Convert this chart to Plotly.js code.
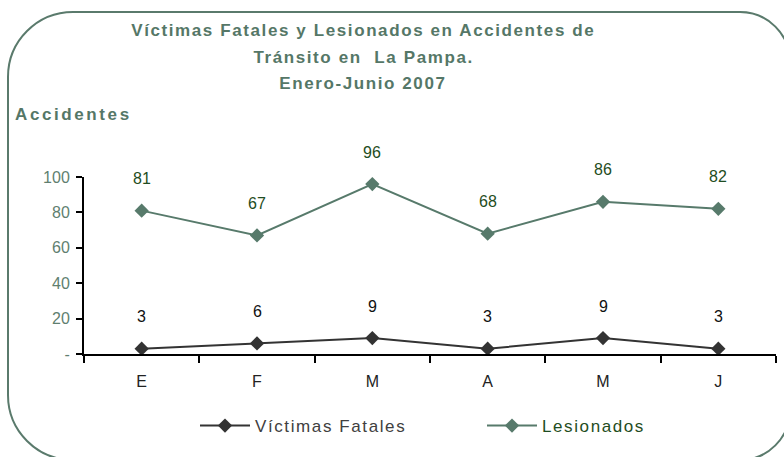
<!DOCTYPE html>
<html>
<head>
<meta charset="utf-8">
<script src="https://cdn.plot.ly/plotly-3.0.1.min.js"></script>
<style>
html,body{margin:0;padding:0;background:#fff;}
.annotation[data-index="0"] text,.annotation[data-index="1"] text,.annotation[data-index="2"] text{letter-spacing:1.6px;}
.annotation[data-index="3"] text{letter-spacing:2.6px;}
.legendtext{letter-spacing:1.6px;}
</style>
</head>
<body>
<div id="chart" style="width:784px;height:457px;"></div>
<script>
// ---- data ----
const months = ["E", "F", "M", "A", "M", "J"];
const victimasFatales = [3, 6, 9, 3, 9, 3];
const lesionados = [81, 67, 96, 68, 86, 82];
const yTickVals = [0, 20, 40, 60, 80, 100];
const yTickText = ["-", "20", "40", "60", "80", "100"];
const titleLines = [
  "Víctimas Fatales y Lesionados en Accidentes de",
  "Tránsito en  La Pampa.",
  "Enero-Junio 2007"
];
const yTitle = "Accidentes";

// ---- geometry ----
const W = 784, H = 457;
const M = {l: 84, r: 8, t: 177, b: 103, autoexpand: false};
const PW = W - M.l - M.r, PH = H - M.t - M.b;
const px = x => (x - M.l) / PW;
const py = y => (H - M.b - y) / PH;

const titleColor = "#557767";
const greenLine = "#577a6b";
const darkLine = "#333333";
const labelGreen = "#1f4d22";
const font = "Arial, 'Liberation Sans', sans-serif";

const idx = months.map((_, i) => i);

const traces = [
  {
    x: idx, y: victimasFatales, name: "Víctimas Fatales", type: "scatter", mode: "lines+markers",
    line: {color: darkLine, width: 2}, marker: {symbol: "diamond", size: 11, color: darkLine},
    cliponaxis: false
  },
  {
    x: idx, y: lesionados, name: "Lesionados", type: "scatter", mode: "lines+markers",
    line: {color: greenLine, width: 2}, marker: {symbol: "diamond", size: 11, color: greenLine},
    cliponaxis: false
  }
];

const annotations = [];
const titleY = [30, 57, 83];
titleLines.forEach((t, i) => annotations.push({
  xref: "paper", yref: "paper", x: px(363), y: py(titleY[i]), xanchor: "center", yanchor: "middle",
  text: "<b>" + t + "</b>", showarrow: false, font: {family: font, size: 17, color: titleColor}
}));
annotations.push({
  xref: "paper", yref: "paper", x: px(73), y: py(115), xanchor: "center", yanchor: "middle",
  text: "<b>" + yTitle + "</b>", showarrow: false, font: {family: font, size: 17, color: titleColor}
});
victimasFatales.forEach((v, i) => annotations.push({
  x: i, y: v, text: String(v), showarrow: false, yshift: 32,
  font: {family: font, size: 16, color: "#111111"}
}));
lesionados.forEach((v, i) => annotations.push({
  x: i, y: v, text: String(v), showarrow: false, yshift: 32,
  font: {family: font, size: 16, color: labelGreen}
}));

// rounded frame
function roundedPath(x0, y0, x1, y1, rl, rr) {
  const k = 0.5523;
  const P = (x, y) => px(x) + "," + py(y);
  return "M" + P(x0 + rl, y0) +
    " L" + P(x1 - rr, y0) +
    " C" + P(x1 - rr + rr * k, y0) + " " + P(x1, y0 + rr - rr * k) + " " + P(x1, y0 + rr) +
    " L" + P(x1, y1 - rr) +
    " C" + P(x1, y1 - rr + rr * k) + " " + P(x1 - rr + rr * k, y1) + " " + P(x1 - rr, y1) +
    " L" + P(x0 + rl, y1) +
    " C" + P(x0 + rl - rl * k, y1) + " " + P(x0, y1 - rl + rl * k) + " " + P(x0, y1 - rl) +
    " L" + P(x0, y0 + rl) +
    " C" + P(x0, y0 + rl - rl * k) + " " + P(x0 + rl - rl * k, y0) + " " + P(x0 + rl, y0) + " Z";
}

const layout = {
  width: W, height: H,
  margin: M,
  paper_bgcolor: "#ffffff", plot_bgcolor: "#ffffff",
  showlegend: true,
  legend: {
    orientation: "h", x: px(195), y: py(426), xanchor: "left", yanchor: "middle",
    bgcolor: "rgba(0,0,0,0)",
    font: {family: font, size: 17, color: "#404040"}, itemwidth: 50, entrywidth: 222
  },
  xaxis: {
    range: [-0.5, 5.5], tickmode: "array", tickvals: idx, ticktext: months,
    ticks: "", showgrid: false, zeroline: false,
    showline: true, linecolor: "#000000", linewidth: 2,
    tickfont: {family: font, size: 16, color: "#222222"},
    ticklabelstandoff: 12, automargin: false,
    minor: {tickmode: "linear", tick0: -0.5, dtick: 1, ticks: "outside", ticklen: 7, tickwidth: 2, tickcolor: "#000000", showgrid: false},
    fixedrange: true
  },
  yaxis: {
    range: [0, 100], tickmode: "array", tickvals: yTickVals, ticktext: yTickText,
    ticks: "outside", ticklen: 6, tickwidth: 2, tickcolor: "#000000",
    showgrid: false, zeroline: false, automargin: false,
    showline: true, linecolor: "#000000", linewidth: 2,
    tickfont: {family: font, size: 16, color: "#5f7f70"},
    ticklabelstandoff: 3,
    fixedrange: true
  },
  annotations: annotations,
  shapes: [{
    type: "path", xref: "paper", yref: "paper", layer: "below",
    path: roundedPath(8, 12, 790, 460, 65, 50),
    line: {color: "#5a7a6c", width: 2}
  }]
};

Plotly.newPlot("chart", traces, layout, {displayModeBar: false, staticPlot: true});
// legend label colours
const lt = document.querySelectorAll(".legendtext");
if (lt[1]) lt[1].style.fill = labelGreen;
</script>
</body>
</html>
